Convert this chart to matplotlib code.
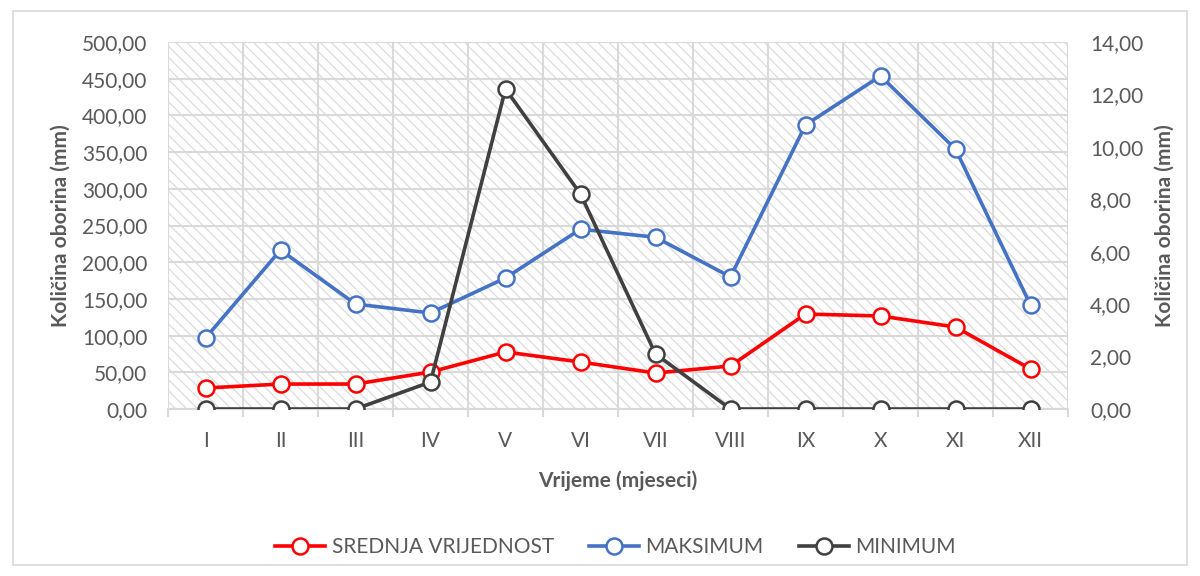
import matplotlib
matplotlib.use("Agg")
import matplotlib.pyplot as plt
from matplotlib.patches import Rectangle
from matplotlib.ticker import FuncFormatter, MultipleLocator, FixedLocator
import numpy as np

months = ["I", "II", "III", "IV", "V", "VI", "VII", "VIII", "IX", "X", "XI", "XII"]
srednja = [28.6, 34.0, 34.0, 50.4, 77.7, 64.0, 49.0, 58.6, 129.4, 126.7, 111.7, 54.5]
maksimum = [96.7, 216.6, 143.0, 130.8, 178.5, 245.0, 234.0, 180.0, 387.0, 453.7, 354.0, 141.7]
minimum = [0.0, 0.0, 0.0, 1.03, 12.21, 8.2, 2.1, 0.0, 0.0, 0.0, 0.0, 0.0]

plt.rcParams['font.family'] = ['Lato', 'DejaVu Sans']
plt.rcParams['hatch.linewidth'] = 0.9

txt = '#595959'
gridc = '#d9d9d9'
fs = 15

fig = plt.figure(figsize=(12, 5.76), dpi=100)
fig.patches.append(Rectangle((13/1200, 11/576), 1174/1200, 554/576, transform=fig.transFigure,
                             facecolor='white', edgecolor='#d9d9d9', linewidth=1.2, zorder=-10))

ax = fig.add_axes([168/1200, (576-409)/576, 900/1200, 367/576])
ax.set_facecolor('white')
ax.add_patch(Rectangle((0, 0), 1, 1, transform=ax.transAxes, facecolor='white',
                       edgecolor='#dcdcdc', linewidth=0, hatch='\\' * 3, zorder=0))

x = np.arange(len(months))
ax.set_xlim(-0.5, len(months) - 0.5)
ax.set_ylim(0, 500)
ax.yaxis.set_major_locator(MultipleLocator(50))
fmt = FuncFormatter(lambda v, p: f"{v:.2f}".replace('.', ','))
ax.yaxis.set_major_formatter(fmt)

ax.set_xticks(x)
ax.set_xticklabels(months)
ax.xaxis.set_minor_locator(FixedLocator(np.arange(-0.5, len(months), 1.0)))
ax.tick_params(axis='x', which='major', length=0, pad=16, labelsize=fs, labelcolor=txt)
ax.tick_params(axis='x', which='minor', length=6, color=gridc, width=1.5)
ax.tick_params(axis='y', length=0, labelsize=fs, labelcolor=txt, pad=15)
ax.grid(True, axis='y', color=gridc, linewidth=1.5, zorder=1)
ax.grid(True, axis='x', which='minor', color=gridc, linewidth=1.5, zorder=1)
ax.set_axisbelow(True)
for s in ['top', 'right', 'left']:
    ax.spines[s].set_visible(False)
ax.spines['bottom'].set_color(gridc)
ax.spines['bottom'].set_linewidth(1.5)

ax.set_xlabel("Vrijeme (mjeseci)", fontsize=fs, fontweight='bold', color=txt, labelpad=14)
ax.set_ylabel("Količina oborina (mm)", fontsize=fs, fontweight='bold', color=txt, labelpad=8)

l1, = ax.plot(x, srednja, color='#ff0000', lw=2.6, marker='o', markersize=11.5,
              markerfacecolor='white', markeredgewidth=1.8, markeredgecolor='#ff0000',
              label='SREDNJA VRIJEDNOST', zorder=3)
l2, = ax.plot(x, maksimum, color='#4472c4', lw=2.6, marker='o', markersize=11.5,
              markerfacecolor='white', markeredgewidth=1.8, markeredgecolor='#4472c4',
              label='MAKSIMUM', zorder=3)

ax2 = ax.twinx()
ax2.set_ylim(0, 14)
ax2.yaxis.set_major_locator(MultipleLocator(2))
ax2.yaxis.set_major_formatter(fmt)
ax2.tick_params(axis='y', length=0, labelsize=fs, labelcolor=txt, pad=16)
for s in ax2.spines.values():
    s.set_visible(False)
ax2.set_ylabel("Količina oborina (mm)", fontsize=fs, fontweight='bold', color=txt, labelpad=8)
l3, = ax2.plot(x, minimum, color='#404040', lw=2.6, marker='o', markersize=11.5,
               markerfacecolor='white', markeredgewidth=1.8, markeredgecolor='#404040',
               label='MINIMUM', zorder=3)

fig.legend(handles=[l1, l2, l3], loc='center', bbox_to_anchor=(0.513, (576-547)/576),
           ncol=3, frameon=False, fontsize=fs, labelcolor=txt, handlelength=2.4,
           columnspacing=1.7, handletextpad=0.3)

fig.savefig("out.png", dpi=100)
